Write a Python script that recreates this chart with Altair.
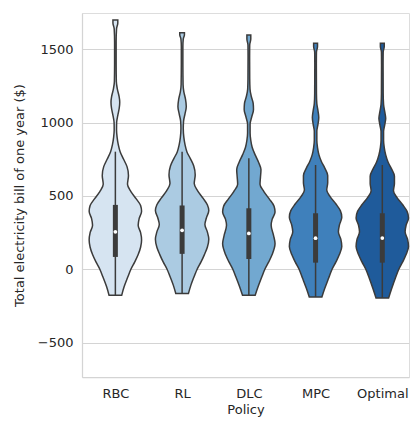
import json
import altair as alt
import pandas as pd

policies = ["RBC", "RL", "DLC", "MPC", "Optimal"]
colors = ["#d6e4f1", "#abcbe2", "#72a8d0", "#3f80bb", "#1f5b9b"]

# violin outlines: bill value ($) and relative density (half-width)
rbc_bill = [-178, -120, -50, 0, 50, 100, 150, 200, 250, 300, 345, 395, 435, 480, 530, 580, 640, 700, 750, 800,
            850, 900, 950, 1000, 1050, 1100, 1140, 1180, 1230, 1280, 1400, 1550, 1640, 1680, 1700]
rbc_dens = [6.5, 9, 13, 16, 20, 23.5, 26, 27, 26, 23.5, 24.5, 27, 26, 21.5, 16, 12.5, 13.5, 12, 8.5, 5,
            3, 1.8, 1.2, 1.3, 2.5, 4, 4.5, 3.8, 2, 1, 0.8, 0.8, 1.2, 2.5, 2.5]

rl_bill = [-166, -110, -40, 0, 50, 100, 150, 205, 255, 305, 350, 400, 440, 485, 535, 585, 645, 705, 755, 800,
           850, 900, 960, 1010, 1060, 1110, 1160, 1210, 1260, 1400, 1520, 1570, 1600, 1614]
rl_dens = [6.5, 9, 13, 15.5, 19.5, 23, 26, 27.5, 26, 23.5, 25, 27.5, 26, 21.5, 16, 12.5, 13.5, 12, 8.5, 5,
           3, 1.8, 1.2, 1.5, 3, 4.3, 3.5, 1.8, 1, 0.8, 0.8, 1.2, 2.4, 2.4]

dlc_bill = [-178, -120, -50, 0, 50, 100, 175, 230, 300, 340, 390, 430, 480, 530, 580, 630, 680, 730, 780,
            830, 880, 930, 990, 1040, 1090, 1130, 1180, 1230, 1300, 1450, 1530, 1570, 1598]
dlc_dens = [6.5, 9.5, 13.5, 16.5, 20.5, 24, 27, 25.5, 23, 24, 27, 26, 21, 15.5, 11.5, 12, 12.5, 10, 6.5,
            3.5, 2, 1.3, 1.3, 3, 4.8, 4.5, 2.5, 1.2, 0.9, 0.8, 0.9, 2, 2]

mpc_bill = [-189, -130, -60, 0, 50, 100, 155, 205, 255, 300, 355, 400, 445, 495, 540, 590, 640, 690, 735,
            780, 830, 880, 940, 990, 1035, 1080, 1130, 1200, 1400, 1480, 1520, 1542]
mpc_dens = [6.5, 9.5, 13.5, 17, 21, 24.5, 27, 26, 23.5, 24.5, 27, 25.5, 21, 15, 11.5, 12.5, 12.5, 9.5, 6,
            3.5, 2, 1.3, 1.3, 2.5, 3.3, 2.5, 1.3, 0.9, 0.8, 0.9, 2, 2]

opt_bill = [-196, -135, -60, 0, 50, 100, 155, 205, 255, 300, 350, 395, 440, 490, 535, 585, 635, 685, 730,
            780, 830, 880, 940, 985, 1030, 1075, 1125, 1200, 1400, 1480, 1520, 1542]
opt_dens = [6.5, 9.5, 13.5, 17, 21, 24.5, 27, 26, 23.5, 24.5, 27, 25.5, 21, 15, 11.5, 12.5, 12.5, 9.5, 6,
            3.5, 2, 1.3, 1.3, 2.5, 3.5, 2.5, 1.3, 0.9, 0.8, 0.9, 2, 2]

# inner box statistics
bill_min = [-178, -166, -178, -189, -196]
whisker_hi = [802, 802, 758, 711, 711]
q1 = [84, 105, 70, 45, 45]
median = [255, 266, 244, 212, 213]
q3 = [439, 435, 416, 382, 382]

y_ticks = [-500, 0, 500, 1000, 1500]

rows = []
for i, (b, d) in enumerate([(rbc_bill, rbc_dens), (rl_bill, rl_dens), (dlc_bill, dlc_dens),
                            (mpc_bill, mpc_dens), (opt_bill, opt_dens)]):
    for bv, dv in zip(b, d):
        rows.append({"policy": policies[i], "idx": i, "bill": bv, "dens": dv})
violins = pd.DataFrame(rows)
stats = pd.DataFrame({"policy": policies, "idx": list(range(5)), "lo": bill_min, "hi": whisker_hi,
                      "q1": q1, "median": median, "q3": q3})

FONT = "DejaVu Sans"
TXT = "#262626"
GRID = "#d4d4d4"
EDGE = "#3b3b3b"

xscale = alt.Scale(domain=[-0.5, 4.40], nice=False, zero=False)
yscale = alt.Scale(domain=[-735, 1748], nice=False, zero=False)
label_expr = json.dumps(policies) + "[datum.value]"
xaxis = alt.Axis(values=list(range(5)), labelExpr=label_expr, grid=False, ticks=False,
                 domainColor=GRID, domainWidth=1.25, labelFont=FONT, labelFontSize=13, labelColor=TXT,
                 labelPadding=10.5, title="Policy", titleFont=FONT, titleFontSize=13,
                 titleFontWeight="normal", titleColor=TXT, titlePadding=3)
yaxis = alt.Axis(values=y_ticks, format="d", grid=True, gridColor=GRID, gridWidth=1, ticks=False,
                 domainColor=GRID, domainWidth=1.25, labelFont=FONT, labelFontSize=13, labelColor=TXT,
                 labelPadding=9, title="Total electricity bill of one year ($)", titleFont=FONT,
                 titleFontSize=13, titleFontWeight="normal", titleColor=TXT, titlePadding=11)


def X(field):
    return alt.X(field, type="quantitative", scale=xscale, axis=xaxis, stack=None)


def Y(field):
    return alt.Y(field, type="quantitative", scale=yscale, axis=yaxis, stack=None)


area = alt.Chart(violins).transform_joinaggregate(
    dmax="max(dens)"
).transform_calculate(
    xl="datum.idx - 0.4 * datum.dens / datum.dmax",
    xr="datum.idx + 0.4 * datum.dens / datum.dmax",
).mark_area(orient="horizontal", interpolate="monotone", stroke=EDGE, strokeWidth=1.5,
            opacity=1).encode(
    y=Y("bill"),
    x=X("xl"),
    x2="xr:Q",
    color=alt.Color("policy:N", scale=alt.Scale(domain=policies, range=colors), legend=None),
)

whisk = alt.Chart(stats).mark_rule(color=EDGE, strokeWidth=1.5).encode(
    x=X("idx"), y=Y("lo"), y2="hi:Q")
box = alt.Chart(stats).mark_rule(color=EDGE, strokeWidth=5).encode(
    x=X("idx"), y=Y("q1"), y2="q3:Q")
med = alt.Chart(stats).mark_circle(color="white", size=14, opacity=1).encode(
    x=X("idx"), y=Y("median"))

chart = alt.layer(area, whisk, box, med).properties(
    width=404, height=409,
    autosize=alt.AutoSizeParams(type="fit", contains="padding"),
    padding={"left": 5, "top": 5, "right": 0, "bottom": 0},
).configure_view(strokeWidth=0).configure(background="white")

chart.save("out.html", embed_options={"renderer": "svg", "actions": False})
